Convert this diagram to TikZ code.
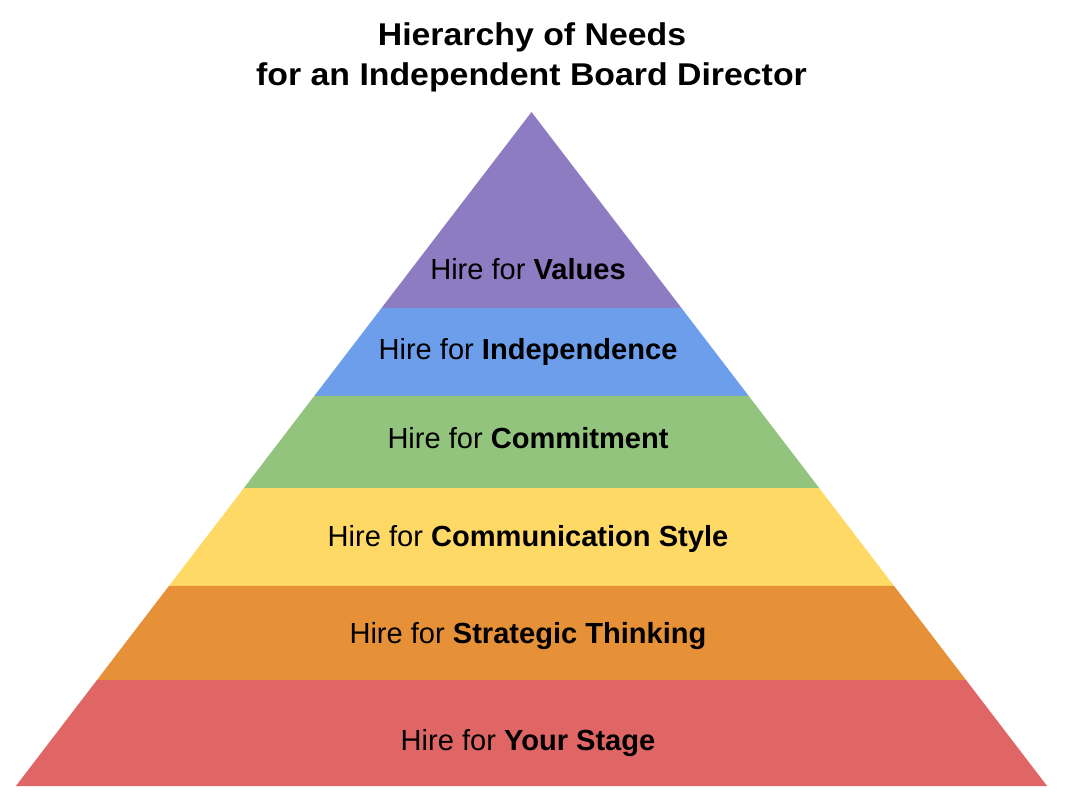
\documentclass[tikz,border=0pt]{standalone}
\usepackage{fontspec}
\setmainfont{Liberation Sans}
\definecolor{cpurple}{HTML}{8E7CC3}
\definecolor{cblue}{HTML}{6D9EEB}
\definecolor{cgreen}{HTML}{93C47D}
\definecolor{cyellow}{HTML}{FFD966}
\definecolor{corange}{HTML}{E69138}
\definecolor{cred}{HTML}{E06666}
\begin{document}
\begin{tikzpicture}[x=0.75pt,y=-0.75pt,
  lbl/.style={anchor=base,inner sep=0pt,font=\fontsize{21.8}{26}\selectfont},
  ttl/.style={anchor=base,inner sep=0pt,font=\fontsize{23.6}{28}\selectfont\bfseries}]
\useasboundingbox (0,0) rectangle (1068,808);
% apex and base
\def\ax{531.5}
\def\ay{112}
\def\k{0.765}
\newcommand{\layer}[3]{%
  \fill[#3] ({\ax-\k*(#1-\ay)},#1) -- ({\ax+\k*(#1-\ay)},#1) -- ({\ax+\k*(#2-\ay)},#2) -- ({\ax-\k*(#2-\ay)},#2) -- cycle;}
\layer{112}{308.5}{cpurple}
\layer{307.8}{396.3}{cblue}
\layer{395.8}{488.7}{cgreen}
\layer{488.2}{586.3}{cyellow}
\layer{585.8}{680.5}{corange}
\layer{680}{786}{cred}
\node[ttl] (t1) at (532,45) {\scalebox{1.075}[1]{Hierarchy of Needs}};
\node[ttl] (t2) at (531.5,85) {\scalebox{1.075}[1]{for an Independent Board Director}};
\node[lbl] (l1) at (528,279) {Hire for \textbf{Values}};
\node[lbl] (l2) at (528,359) {Hire for \textbf{Independence}};
\node[lbl] (l3) at (528,448) {Hire for \textbf{Commitment}};
\node[lbl] (l4) at (528,546) {Hire for \textbf{Communication Style}};
\node[lbl] (l5) at (528,643) {Hire for \textbf{Strategic Thinking}};
\node[lbl] (l6) at (528,750) {Hire for \textbf{Your Stage}};
\end{tikzpicture}
\end{document}
